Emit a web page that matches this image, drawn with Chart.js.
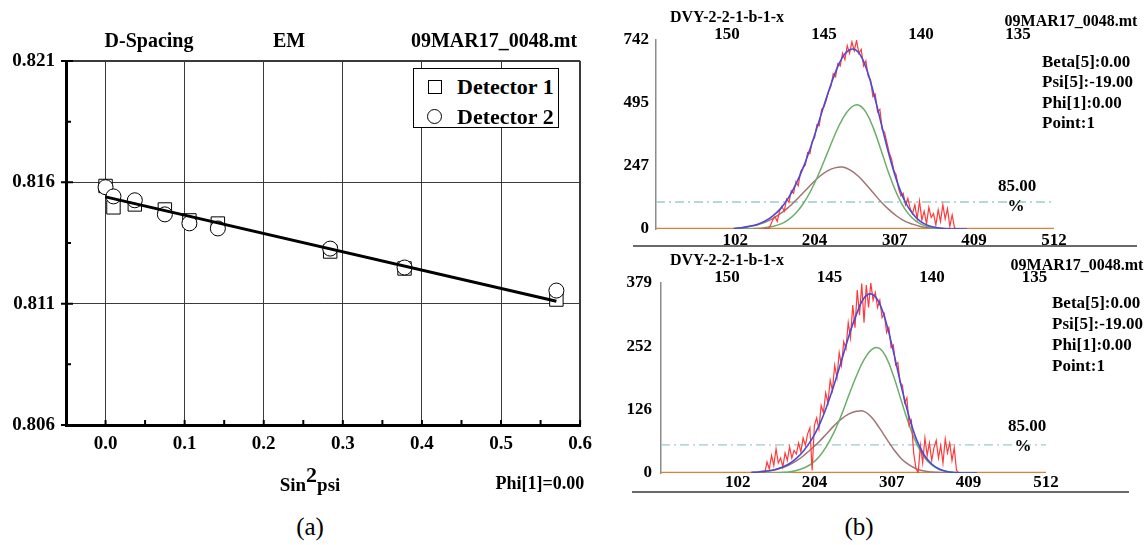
<!DOCTYPE html>
<html>
<head>
<meta charset="utf-8">
<title>D-Spacing - Detector fit</title>
<script src="https://cdn.jsdelivr.net/npm/chart.js@4.4.1/dist/chart.umd.min.js"></script>
<style>
  body { margin: 0; background: #fff; }
  #page { position: relative; width: 1148px; height: 545px; overflow: hidden;
          font-family: "Liberation Serif", "Times New Roman", serif; font-weight: bold; color: #000; }
  canvas { position: absolute; }
  .t { position: absolute; transform: translate(-50%, -50%); white-space: nowrap; line-height: 1; }
  .l { position: absolute; transform: translateY(-50%); white-space: nowrap; line-height: 1; }
  .rule { position: absolute; height: 0; border-top: 2px solid #6a6a6a; }
  #legend { position: absolute; left: 413px; top: 68px; width: 144px; height: 58px;
            border: 1px solid #000; background: #fff; font-size: 22px; }
  .sym { position: absolute; box-sizing: border-box; border: 1px solid #000; background: #fff; }
</style>
</head>
<body>
<div id="page">
  <canvas id="dspacing" width="600" height="470" style="left:0;top:0"></canvas>
  <canvas id="peakTop" width="548" height="250" style="left:600px;top:0"></canvas>
  <canvas id="peakBot" width="548" height="250" style="left:600px;top:250px"></canvas>

  <!-- (a) -->
  <div class="t" style="left:149px;top:40px;font-size:20px">D-Spacing</div>
  <div class="t" style="left:289px;top:40px;font-size:20px">EM</div>
  <div class="t" style="left:494px;top:40px;font-size:20px">09MAR17_0048.mt</div>
  <div id="legend">
    <div class="sym" style="left:14px;top:11px;width:14px;height:14px"></div>
    <div class="l" style="left:43px;top:18px">Detector 1</div>
    <div class="sym" style="left:13px;top:40px;width:15px;height:15px;border-radius:50%"></div>
    <div class="l" style="left:43px;top:48px">Detector 2</div>
  </div>
  <div class="t" style="left:310px;top:484px;font-size:19px">Sin<span style="font-size:22px;position:relative;top:-9px">2</span>psi</div>
  <div class="t" style="left:540px;top:483px;font-size:18px">Phi[1]=0.00</div>
  <div class="t" style="left:310px;top:526px;font-size:25px;font-weight:normal">(a)</div>

  <!-- (b) top -->
  <div class="t" style="left:727px;top:17px;font-size:16px">DVY-2-2-1-b-1-x</div>
  <div class="t" style="left:1071px;top:21px;font-size:16px">09MAR17_0048.mt</div>
  <div class="l" style="left:1042px;top:61px;font-size:17px">Beta[5]:0.00</div>
  <div class="l" style="left:1042px;top:81px;font-size:17px">Psi[5]:-19.00</div>
  <div class="l" style="left:1042px;top:102px;font-size:17px">Phi[1]:0.00</div>
  <div class="l" style="left:1042px;top:122px;font-size:17px">Point:1</div>
  <div class="t" style="left:1017px;top:185px;font-size:17px">85.00</div>
  <div class="t" style="left:1016px;top:205px;font-size:17px">%</div>
  <div class="rule" style="left:633px;top:245px;width:504px"></div>

  <!-- (b) bottom -->
  <div class="t" style="left:727px;top:260px;font-size:16px">DVY-2-2-1-b-1-x</div>
  <div class="t" style="left:1077px;top:265px;font-size:16px">09MAR17_0048.mt</div>
  <div class="l" style="left:1052px;top:302px;font-size:17px">Beta[5]:0.00</div>
  <div class="l" style="left:1052px;top:323px;font-size:17px">Psi[5]:-19.00</div>
  <div class="l" style="left:1052px;top:344px;font-size:17px">Phi[1]:0.00</div>
  <div class="l" style="left:1052px;top:365px;font-size:17px">Point:1</div>
  <div class="t" style="left:1027px;top:425px;font-size:17px">85.00</div>
  <div class="t" style="left:1023px;top:445px;font-size:17px">%</div>
  <div class="rule" style="left:632px;top:491px;width:497px"></div>
  <div class="t" style="left:859px;top:526px;font-size:25px;font-weight:normal">(b)</div>
</div>

<script>
// ---------- (a) d-spacing vs sin^2 psi ----------
const sin2psi   = [0.000, 0.010, 0.037, 0.075, 0.106, 0.142, 0.284, 0.378, 0.570];
const detector1 = [0.81585, 0.81497, 0.81509, 0.81488, 0.81443, 0.81430, 0.81315, 0.81245, 0.81117];
const detector2 = [0.81580, 0.81542, 0.81526, 0.81468, 0.81431, 0.81410, 0.81327, 0.81249, 0.81154];
const fitX = [0.0, 0.57];
const fitY = [0.8154, 0.8111];

const xMajor = [0.0, 0.1, 0.2, 0.3, 0.4, 0.5, 0.6];
const xMinor = [-0.05, 0.05, 0.15, 0.25, 0.35, 0.45, 0.55];
const yMajor = [0.806, 0.811, 0.816, 0.821];
const yMinor = [0.8085, 0.8135, 0.8185];

// ---------- (b) peak profiles ----------
const chTicks = [102, 204, 307, 409, 512];

// top panel
const yTicksTop = [0, 247, 495, 742];
const thetaTicks = [150, 145, 140, 135];
const fitChTop = [100,110,120,130,140,150,160,170,180,190,200,210,220,230,240,250,260,270,280,290,300,310,320,330,340,350,360,370,380,390,400];
const blueTop  = [2,5,11,18,31,51,79,120,176,246,331,426,522,609,675,705,695,635,533,410,289,187,110,61,30,14,6,2,0,0,0];
const greenTop = [0,0,1,2,5,10,19,36,63,102,155,221,295,369,432,474,487,459,393,305,214,137,79,42,20,9,3,1,0,0,0];
const brownTop = [2,5,10,16,26,41,60,84,113,144,176,205,227,240,243,231,208,176,140,105,75,50,31,19,10,5,3,1,0,0,0];
const redTopStart = 126;
const redTop = [
  0,0,0,0,0,3,0,12,35,48,
  30,72,88,70,118,105,150,140,185,170,
  225,240,250,300,296,345,358,410,405,470,
  478,505,540,560,610,598,650,640,690,665,
  720,690,735,700,740,690,705,640,660,600,
  585,520,530,460,470,390,380,340,300,275,
  230,212,160,130,140,95,120,80,60,95,
  40,110,35,70,20,85,45,60,15,75,
  30,95,40,80,10,55,5,0,0
];
const thresholdTop = 106;

// bottom panel
const yTicksBot = [0, 126, 252, 379];
const fitChBot = [120,130,140,150,160,170,180,190,200,210,220,230,240,250,260,270,280,290,300,310,320,330,340,350,360,370,380,390,400,410,420];
const blueBot  = [1,2,4,6,11,18,29,45,66,94,131,175,224,274,317,349,357,340,297,236,170,112,66,36,18,8,3,1,0,0,0];
const greenBot = [0,0,0,0,1,2,5,10,18,32,53,81,116,156,194,226,246,249,229,190,142,96,58,32,16,7,3,1,0,0,0];
const brownBot = [1,2,4,6,10,16,24,35,48,62,78,94,108,118,123,123,111,91,68,46,28,16,8,4,2,1,0,0,0,0,0];
const redBotStart = 135;
const redBot = [
  0,0,22,8,35,15,48,20,30,12,
  40,25,52,30,45,38,60,42,70,55,
  78,90,5,95,110,88,135,120,160,140,
  185,165,215,190,240,215,262,248,300,270,
  335,290,365,315,378,300,375,330,379,345,
  360,330,345,310,318,280,290,250,255,215,
  220,180,175,140,150,95,105,40,10,0,
  55,20,70,35,60,25,50,65,30,55,
  20,68,40,60,25,50,5,0,0
];
const thresholdBot = 56;
const redStep = 3;
const baseX = [0, 512];

Chart.defaults.font.family = '"Liberation Serif", "Times New Roman", serif';
Chart.defaults.font.weight = 'bold';
Chart.defaults.color = '#000';

function pts(xs, ys) {
    return xs.map((x, i) => ({x: x, y: ys[i]}));
}

// small inward tick marks like the original plot
const innerTicks = {
    id: 'innerTicks',
    afterDraw(chart) {
        const ctx = chart.ctx, a = chart.chartArea;
        const xs = chart.scales.x, ys = chart.scales.y;
        ctx.save();
        ctx.strokeStyle = '#000';
        ctx.lineWidth = 2;
        ctx.beginPath();
        yMajor.concat(yMinor).forEach(v => {
            const py = ys.getPixelForValue(v);
            const major = yMajor.includes(v);
            ctx.moveTo(a.left - (major ? 5 : 0), py);
            ctx.lineTo(a.left + (major ? 7 : 5), py);
        });
        xMajor.concat(xMinor).forEach(v => {
            if (v < xs.min) return;
            const px = xs.getPixelForValue(v);
            ctx.moveTo(px, a.bottom);
            ctx.lineTo(px, a.bottom - 5);
        });
        ctx.stroke();
        ctx.restore();
    }
};

new Chart(document.getElementById('dspacing'), {
    type: 'scatter',
    data: {
        datasets: [{
            label: 'Fit',
            data: pts(fitX, fitY),
            showLine: true,
            borderColor: '#000',
            borderWidth: 3,
            pointRadius: 0,
            order: 0
        }, {
            label: 'Detector 2',
            data: pts(sin2psi, detector2),
            pointStyle: 'circle',
            pointRadius: 7.5,
            pointBackgroundColor: '#fff',
            pointBorderColor: '#000',
            pointBorderWidth: 1,
            order: 1
        }, {
            label: 'Detector 1',
            data: pts(sin2psi, detector1),
            pointStyle: 'rect',
            pointRadius: 9.5,
            pointBackgroundColor: '#fff',
            pointBorderColor: '#000',
            pointBorderWidth: 1,
            order: 2
        }]
    },
    options: {
        responsive: false,
        animation: false,
        layout: { padding: { top: 61, right: 13, left: 0, bottom: 0 } },
        plugins: { legend: { display: false }, tooltip: { enabled: false } },
        scales: {
            x: {
                type: 'linear', min: -0.05, max: 0.6,
                afterFit: s => { s.height = 45; },
                afterBuildTicks: s => { s.ticks = xMinor.concat(xMajor).sort((p, q) => p - q).map(v => ({value: v})); },
                grid: {
                    drawTicks: false,
                    color: c => (c.tick && xMajor.includes(c.tick.value)) ? '#3a3a3a' : 'rgba(0,0,0,0)',
                    lineWidth: c => (c.tick && c.tick.value === 0.6) ? 2 : 1
                },
                border: { color: '#000', width: 3 },
                ticks: {
                    padding: 8, autoSkip: false, maxRotation: 0,
                    font: { size: 19, weight: 'bold' },
                    callback: v => xMajor.includes(v) ? v.toFixed(1) : ''
                }
            },
            y: {
                min: 0.806, max: 0.821,
                afterFit: s => { s.width = 66; },
                afterBuildTicks: s => { s.ticks = yMajor.concat(yMinor).sort((p, q) => p - q).map(v => ({value: v})); },
                grid: {
                    drawTicks: false,
                    color: c => (c.tick && yMajor.includes(c.tick.value)) ? '#3a3a3a' : 'rgba(0,0,0,0)',
                    lineWidth: c => (c.tick && c.tick.value === 0.821) ? 2 : 1
                },
                border: { color: '#000', width: 3 },
                ticks: {
                    padding: 11, autoSkip: false,
                    font: { size: 19, weight: 'bold' },
                    callback: v => yMajor.includes(v) ? v.toFixed(3) : ''
                }
            }
        }
    },
    plugins: [innerTicks]
});

function curve(xs, ys, color, width, order) {
    return {
        data: pts(xs, ys), showLine: true, borderColor: color, borderWidth: width,
        pointRadius: 0, tension: 0.4, order: order
    };
}

function peakChart(id, p) {
    const redCh = p.red.map((v, i) => p.redStart + i * redStep);
    const font = { size: 17, weight: 'bold' };
    return new Chart(document.getElementById(id), {
        type: 'scatter',
        data: {
            datasets: [
                curve(p.fitCh, p.blue, '#4a4ad6', 1.6, 1),
                {
                    data: pts(redCh, p.red), showLine: true, borderColor: '#ff3a3a',
                    borderWidth: 1.2, pointRadius: 0, tension: 0, order: 2
                },
                curve(p.fitCh, p.green, '#6cae6c', 1.5, 3),
                curve(p.fitCh, p.brown, '#a07474', 1.5, 4),
                {
                    data: pts(baseX, [0, 0]), showLine: true, borderColor: '#d9823a',
                    borderWidth: 2.5, pointRadius: 0, order: 5
                },
                {
                    data: pts(baseX, [p.threshold, p.threshold]), showLine: true,
                    borderColor: '#9ccaca', borderWidth: 1.3, borderDash: [9, 4, 2, 4],
                    pointRadius: 0, order: 6
                }
            ]
        },
        options: {
            responsive: false,
            animation: false,
            layout: { padding: { top: 0, right: p.padRight, left: 0, bottom: 0 } },
            plugins: { legend: { display: false }, tooltip: { enabled: false } },
            scales: {
                x: {
                    type: 'linear', position: 'bottom', min: 0, max: 512,
                    afterFit: s => { s.height = p.xH; },
                    afterBuildTicks: s => { s.ticks = chTicks.map(v => ({value: v})); },
                    grid: { display: false, drawTicks: false },
                    border: { display: false },
                    ticks: { padding: p.xPad, autoSkip: false, maxRotation: 0, font: font }
                },
                x2: {
                    type: 'linear', position: 'top', reverse: true, display: true,
                    min: p.thetaMin, max: p.thetaMax,
                    afterFit: s => { s.height = p.x2H; },
                    afterBuildTicks: s => { s.ticks = thetaTicks.map(v => ({value: v})); },
                    grid: { display: false, drawTicks: false },
                    border: { display: false },
                    ticks: { padding: -5, autoSkip: false, maxRotation: 0, font: font }
                },
                y: {
                    min: 0, max: p.yMax,
                    afterFit: s => { s.width = p.yW; },
                    afterBuildTicks: s => { s.ticks = p.yTicks.map(v => ({value: v})); },
                    grid: { display: false, drawTicks: false },
                    border: { color: '#8c8c8c', width: 1.5 },
                    ticks: { padding: p.yPad, autoSkip: false, font: font }
                }
            }
        }
    });
}

peakChart('peakTop', {
    fitCh: fitChTop, blue: blueTop, green: greenTop, brown: brownTop,
    red: redTop, redStart: redTopStart, threshold: thresholdTop,
    yTicks: yTicksTop, yMax: 742, thetaMin: 133.14, thetaMax: 153.66,
    padRight: 94, xH: 21, x2H: 40, yW: 56, xPad: 1, yPad: 7
});

peakChart('peakBot', {
    fitCh: fitChBot, blue: blueBot, green: greenBot, brown: brownBot,
    red: redBot, redStart: redBotStart, threshold: thresholdBot,
    yTicks: yTicksBot, yMax: 379, thetaMin: 134.44, thetaMax: 153.22,
    padRight: 102, xH: 27, x2H: 33, yW: 61, xPad: -1, yPad: 9
});
</script>
</body>
</html>
